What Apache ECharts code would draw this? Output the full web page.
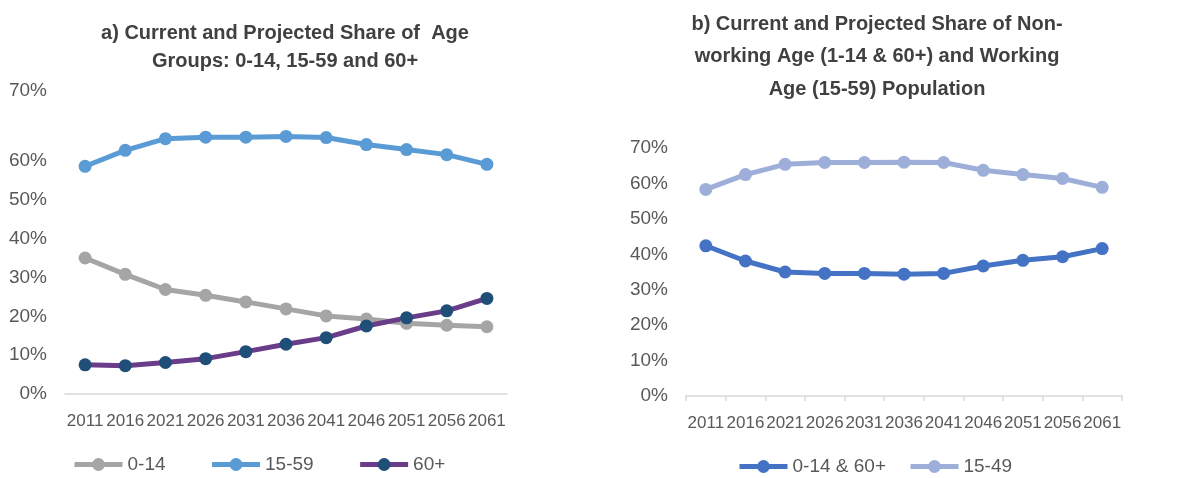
<!DOCTYPE html>
<html>
<head>
<meta charset="utf-8">
<script src="https://cdn.jsdelivr.net/npm/echarts@6/dist/echarts.min.js"></script>
<style>
  html, body { margin: 0; padding: 0; background: #fff; }
  #chart { width: 1194px; height: 478px; }
</style>
</head>
<body>
<div id="chart"></div>
<script>
// years on both x axes
const years = ['2011', '2016', '2021', '2026', '2031', '2036', '2041', '2046', '2051', '2056', '2061']

// a) share of age groups (%)
const age0to14 = [35.0, 30.8, 26.9, 25.4, 23.7, 21.9, 20.1, 19.3, 18.2, 17.7, 17.3]
const age15to59 = [58.6, 62.7, 65.7, 66.1, 66.1, 66.3, 66.0, 64.2, 62.9, 61.6, 59.1]
const age60plus = [7.5, 7.3, 8.1, 9.1, 10.9, 12.8, 14.5, 17.5, 19.6, 21.4, 24.6]

// b) non-working vs working age (%)
const nonWorking = [42.4, 38.1, 35.0, 34.6, 34.6, 34.4, 34.6, 36.7, 38.3, 39.3, 41.6]
const working = [58.3, 62.5, 65.4, 65.9, 65.9, 66.0, 65.9, 63.7, 62.5, 61.4, 58.9]

const yTicks = [0, 10, 20, 30, 40, 50, 60, 70]

const grey = '#595959'
const axisLine = { show: true, lineStyle: { color: '#d9d9d9', width: 1.5 } }

function lineSeries(name, data, idx, lineColor, dotColor) {
  return {
    name: name,
    type: 'line',
    xAxisIndex: idx,
    yAxisIndex: idx,
    data: data,
    symbol: 'circle',
    symbolSize: 13,
    lineStyle: { width: 5, color: lineColor },
    itemStyle: { color: dotColor || lineColor },
    color: dotColor || lineColor
  }
}

const titleStyle = { fontFamily: 'Liberation Sans', fontWeight: 'bold', fontSize: 20, color: '#404040' }

const chart = echarts.init(document.getElementById('chart'))

chart.setOption({
  animation: false,
  textStyle: { fontFamily: 'Liberation Sans' },
  title: [{
    text: 'a) Current and Projected Share of  Age\nGroups: 0-14, 15-59 and 60+',
    left: 280,
    top: 14,
    textAlign: 'center',
    textStyle: Object.assign({ lineHeight: 28 }, titleStyle)
  }, {
    text: 'b) Current and Projected Share of Non-\nworking Age (1-14 & 60+) and Working\nAge (15-59) Population',
    left: 872,
    top: 3,
    textAlign: 'center',
    textStyle: Object.assign({ lineHeight: 32.5 }, titleStyle)
  }],
  legend: [{
    data: ['0-14', '15-59', '60+'],
    left: 67,
    top: 450,
    itemWidth: 48,
    itemHeight: 16,
    itemGap: 44,
    lineStyle: { width: 5 },
    textStyle: { fontSize: 19, color: grey }
  }, {
    data: ['0-14 & 60+', '15-49'],
    left: 732,
    top: 452,
    itemWidth: 48,
    itemHeight: 16,
    itemGap: 22,
    lineStyle: { width: 5 },
    textStyle: { fontSize: 19, color: grey }
  }],
  grid: [
    { left: 65, right: 687, top: 122, bottom: 84 },
    { left: 686, right: 72, top: 148, bottom: 82 }
  ],
  xAxis: [0, 1].map(i => ({
    type: 'category',
    gridIndex: i,
    data: years,
    axisLine: axisLine,
    axisTick: { show: i === 1, length: 5, lineStyle: { color: '#d9d9d9', width: 1.5 } },
    axisLabel: { fontSize: 17, color: grey, margin: 19, interval: 0 }
  })),
  yAxis: [0, 1].map(i => ({
    type: 'value',
    gridIndex: i,
    min: yTicks[0],
    max: yTicks[yTicks.length - 1],
    interval: 10,
    splitLine: { show: false },
    axisLine: { show: false },
    axisTick: { show: false },
    axisLabel: {
      fontSize: 19,
      color: grey,
      margin: 18,
      formatter: v => (i === 0 && v === 70) ? '{top|70%}' : v + '%',
      rich: { top: { fontSize: 19, color: grey, padding: [0, 0, 62, 0] } }
    }
  })),
  series: [
    lineSeries('0-14', age0to14, 0, '#a5a5a5'),
    lineSeries('15-59', age15to59, 0, '#5b9bd5'),
    lineSeries('60+', age60plus, 0, '#6a3d8a', '#1f4e79'),
    lineSeries('0-14 & 60+', nonWorking, 1, '#4472c4'),
    lineSeries('15-49', working, 1, '#9dafd9')
  ]
})
</script>
</body>
</html>
